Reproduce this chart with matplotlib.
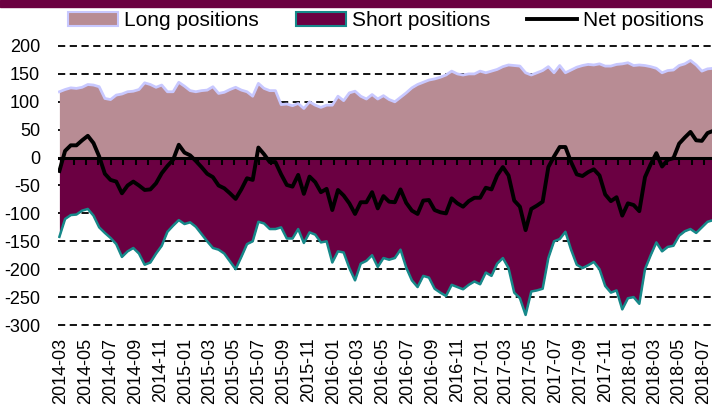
import matplotlib
matplotlib.use('Agg')
import matplotlib.pyplot as plt
import numpy as np
import pandas as pd
from matplotlib.patches import Patch, Rectangle
from matplotlib.lines import Line2D

plt.rcParams['font.family'] = ['Liberation Sans', 'DejaVu Sans']

# Bi-weekly readings (from 2014-02-25)
long_pos = [118, 122, 125, 124, 126, 131, 130, 127, 106, 104,
            112, 114, 118, 119, 122, 134, 131, 126, 130, 118,
            118, 135, 128, 120, 118, 120, 121, 127, 115, 117,
            122, 126, 121, 118, 110, 133, 124, 120, 120,
            95, 96, 93, 97, 88, 100, 94, 90, 94, 94,
            110, 102, 116, 119, 110, 105, 113, 105, 111,
            104, 100, 108, 116, 125, 131, 135, 139, 141, 144,
            148, 155, 150, 148, 150, 150, 155, 152, 155,
            158, 163, 166, 165, 164, 152, 148, 152, 156, 163,
            152, 165, 152, 157, 162, 165, 167, 166, 168,
            164, 164, 167, 168, 170, 165, 166, 165, 163, 160,
            152, 156, 157, 165, 168, 174, 166, 155, 159, 160]

short_pos = [-142, -110, -103, -102, -95, -92, -104, -125, -135, -144,
             -155, -178, -168, -162, -172, -192, -188, -172, -158, -133,
             -122, -112, -119, -116, -124, -137, -150, -162, -165, -172,
             -186, -200, -178, -155, -150, -115, -118, -128, -128,
             -125, -145, -145, -128, -153, -134, -138, -152, -150, -188,
             -168, -170, -198, -220, -190, -185, -175, -196, -180,
             -183, -180, -165, -197, -220, -232, -212, -215, -235, -242,
             -248, -228, -232, -236, -228, -222, -227, -206, -212,
             -190, -180, -198, -242, -252, -282, -240, -238, -235, -180,
             -150, -146, -133, -165, -192, -198, -193, -187, -200,
             -230, -242, -238, -272, -252, -250, -262, -200, -175, -152,
             -168, -160, -158, -140, -132, -128, -135, -125, -115, -112]

yticks = [-300, -250, -200, -150, -100, -50, 0, 50, 100, 150, 200]
legend_labels = ['Long positions', 'Short positions', 'Net positions']

dates = pd.date_range('2014-02-25', periods=len(long_pos), freq='14D')
net_pos = np.array(long_pos) + np.array(short_pos)

fig = plt.figure(figsize=(7.12, 4.08), dpi=100)
ax = fig.add_axes([58 / 712, 1 - 325 / 408, 654 / 712, 279 / 408])

ax.fill_between(dates, 0, long_pos, color='#B88C94', lw=0, zorder=2)
ax.plot(dates, long_pos, color='#C8C8FF', lw=2, zorder=3)
ax.fill_between(dates, 0, short_pos, color='#6B0042', lw=0, zorder=2)
ax.plot(dates, short_pos, color='#16898A', lw=1.8, zorder=3)
ax.axhline(0, color='black', lw=2.2, zorder=4)

month_ticks = pd.date_range('2014-03-01', '2018-07-01', freq='MS')
ax.plot(month_ticks, np.zeros(len(month_ticks)), ls='none', marker=3,
        ms=5, mew=1.5, color='black', zorder=4)
ax.plot(dates, net_pos, color='black', lw=2.8, zorder=5)

for y in yticks:
    if y != 0:
        ax.axhline(y, color='black', lw=1.3, ls=(0, (4, 2.5)), zorder=1, clip_on=False)

ax.set_ylim(-300, 200)
ax.set_xlim(pd.Timestamp('2014-02-21 14:00'), pd.Timestamp('2018-07-21'))
for s in ax.spines.values():
    s.set_visible(False)

ax.set_yticks(yticks)
ax.set_yticklabels([str(v) for v in yticks])
ax.tick_params(axis='y', length=0, pad=13, labelsize=13)

xt = pd.date_range('2014-03-01', '2018-07-01', freq='2MS')
ax.set_xticks(xt)
ax.set_xticklabels([d.strftime('%Y-%m') for d in xt], rotation=90)
ax.tick_params(axis='x', length=0, pad=9, labelsize=13)

fig.patches.append(Rectangle((0, 1 - 7 / 408), 1, 7 / 408, transform=fig.transFigure,
                             color='#6B0040', zorder=0))

handles = [Patch(facecolor='#B88C94', edgecolor='#C8C8FF', lw=1.5),
           Patch(facecolor='#6B0042', edgecolor='#16898A', lw=1.5),
           Line2D([], [], color='black', lw=2.8)]
fig.legend(handles, legend_labels, loc='center', bbox_to_anchor=(0.542, 1 - 21 / 408),
           ncol=3, frameon=False, fontsize=15, handlelength=2.4, handletextpad=0.3,
           columnspacing=1.75, handleheight=0.65, borderpad=0, borderaxespad=0)

fig.savefig('out.png', dpi=100)
